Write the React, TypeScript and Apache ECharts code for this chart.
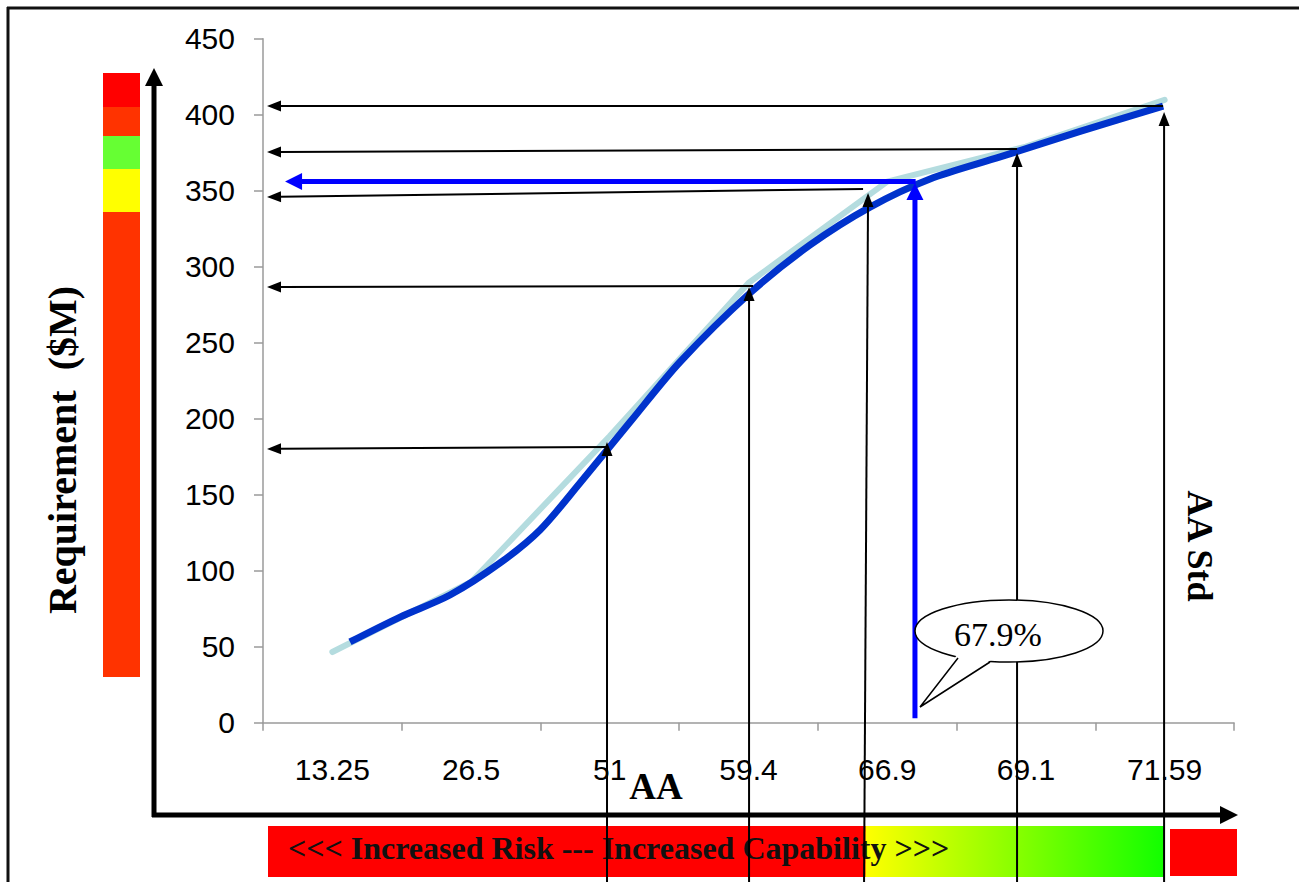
import React, { useEffect, useRef } from "react";
import * as echarts from "echarts";

// Category labels along the AA axis
const categories = ["13.25", "26.5", "51", "59.4", "66.9", "69.1", "71.59"];

// Raw requirement at each category ($M)
const rawRequirement = [46.5, 92.6, 188.6, 289.3, 356, 379, 409.7];

// Fitted requirement curve: [position on the category scale (0..7), $M]
const fittedX = [0.627, 0.988, 1.348, 1.709, 1.997, 2.285, 2.646, 3.006, 3.511, 3.944, 4.376, 4.809, 5.314, 5.89, 6.489];
const fittedY = [53.1, 69.5, 84.0, 105.1, 126.8, 157.7, 197.8, 237.3, 282.7, 314.3, 339.2, 357.7, 372.2, 389.0, 405.7];

// Read-off arrows: horizontal arrows from the curve to the requirement axis
const readFromX = [2.487, 3.533, 4.326, 5.436, 6.489];
const readFromY = [181.4, 287.3, 351.1, 377.4, 405.7];
const readToX = [0.029, 0.029, 0.029, 0.029, 0.029];
const readToY = [180.1, 286.6, 345.9, 375.5, 405.7];

// Standard lines rising from below the axis up to the curve
const riseBottomX = [2.48, 3.504, 4.333, 5.436, 6.496];
const riseTopX = [2.48, 3.504, 4.362, 5.436, 6.496];
const riseTopY = [184.7, 286.6, 348.5, 374.8, 401.8];
const riseBottomY = -105;

// Highlighted read-off at 67.9%
const markX = 4.7;
const markBottomY = 3;
const markTopY = 355;
const markLevel = 356;
const markLeftX = 0.159;
const markLabel = "67.9%";

const yTicks = { min: 0, max: 450, interval: 50 };

const arrowSeries = (
  name: string,
  data: number[][],
  color: string,
  width: number,
  headLen: number,
  headWidth: number
) => ({
  name,
  type: "custom",
  xAxisIndex: 1,
  yAxisIndex: 0,
  clip: false,
  silent: true,
  z: 5,
  data,
  renderItem: (_params: any, api: any) => {
    const p0 = api.coord([api.value(0), api.value(1)]);
    const p1 = api.coord([api.value(2), api.value(3)]);
    const dx = p1[0] - p0[0];
    const dy = p1[1] - p0[1];
    const len = Math.hypot(dx, dy) || 1;
    const ux = dx / len;
    const uy = dy / len;
    const bx = p1[0] - ux * headLen;
    const by = p1[1] - uy * headLen;
    const hw = headWidth / 2;
    return {
      type: "group",
      children: [
        {
          type: "line",
          shape: { x1: p0[0], y1: p0[1], x2: bx + ux * 1, y2: by + uy * 1 },
          style: { stroke: color, lineWidth: width },
        },
        {
          type: "polygon",
          shape: {
            points: [
              [p1[0], p1[1]],
              [bx - uy * hw, by + ux * hw],
              [bx + uy * hw, by - ux * hw],
            ],
          },
          style: { fill: color },
        },
      ],
    };
  },
});

export default function App() {
  const ref = useRef<HTMLDivElement>(null);

  useEffect(() => {
    if (!ref.current) return;
    const chart = echarts.init(ref.current, null, { renderer: "svg" });

    const readArrows = readFromX.map((x, i) => [x, readFromY[i], readToX[i], readToY[i]]);
    const riseArrows = riseBottomX.map((x, i) => [x, riseBottomY, riseTopX[i], riseTopY[i]]);
    const markArrows = [
      [markX, markBottomY, markX, markTopY],
      [markX + 0.005, markLevel, markLeftX, markLevel],
    ];

    const serif = "'Liberation Serif', 'Times New Roman', serif";
    const sans = "'Liberation Sans', Arial, sans-serif";

    chart.setOption({
      animation: false,
      grid: { left: 263, top: 38.7, width: 971, height: 684, containLabel: false },
      xAxis: [
        {
          type: "category",
          data: categories,
          boundaryGap: true,
          axisLine: { show: true, lineStyle: { color: "#9a9a9a", width: 1.5 } },
          axisTick: { show: true, interval: 0, length: 8, lineStyle: { color: "#9a9a9a", width: 1.5 } },
          axisLabel: { interval: 0, margin: 32, color: "#000", fontSize: 30, fontFamily: sans },
          splitLine: { show: false },
        },
        { type: "value", min: 0, max: 7, show: false },
      ],
      yAxis: [
        {
          type: "value",
          min: yTicks.min,
          max: yTicks.max,
          interval: yTicks.interval,
          axisLine: { show: true, lineStyle: { color: "#9a9a9a", width: 1.5 } },
          axisTick: { show: true, length: 9, lineStyle: { color: "#9a9a9a", width: 1.5 } },
          axisLabel: { margin: 28, color: "#000", fontSize: 30, fontFamily: sans },
          splitLine: { show: false },
        },
      ],
      series: [
        {
          name: "Requirement",
          type: "line",
          xAxisIndex: 0,
          data: rawRequirement,
          symbol: "none",
          smooth: false,
          lineStyle: { color: "#b4dcdf", width: 6, cap: "round", join: "round" },
          z: 3,
        },
        {
          name: "Fitted",
          type: "line",
          xAxisIndex: 1,
          data: fittedX.map((x, i) => [x, fittedY[i]]),
          symbol: "none",
          smooth: 0.3,
          lineStyle: { color: "#0033cc", width: 7, cap: "butt", join: "round" },
          z: 4,
        },
        arrowSeries("Read-off", readArrows, "#000", 2, 14, 11),
        arrowSeries("Standards", riseArrows, "#000", 2, 14, 11),
        arrowSeries("67.9% read-off", markArrows, "#0000ff", 5, 17, 17),
      ],
      graphic: [
        // page frame
        { type: "line", shape: { x1: 7, y1: 8, x2: 1299, y2: 8 }, style: { stroke: "#111", lineWidth: 3 } },
        { type: "line", shape: { x1: 8, y1: 7, x2: 8, y2: 882 }, style: { stroke: "#111", lineWidth: 3 } },
        // risk colour scale beside the requirement axis
        { type: "rect", shape: { x: 103, y: 73, width: 37, height: 34 }, style: { fill: "#ff0000" } },
        { type: "rect", shape: { x: 103, y: 107, width: 37, height: 29 }, style: { fill: "#ff3300" } },
        { type: "rect", shape: { x: 103, y: 136, width: 37, height: 33 }, style: { fill: "#66ff33" } },
        { type: "rect", shape: { x: 103, y: 169, width: 37, height: 43 }, style: { fill: "#ffff00" } },
        { type: "rect", shape: { x: 103, y: 212, width: 37, height: 465 }, style: { fill: "#ff3300" } },
        // heavy outer axes
        { type: "line", shape: { x1: 154, y1: 817, x2: 154, y2: 84 }, style: { stroke: "#000", lineWidth: 5 } },
        { type: "polygon", shape: { points: [[154, 68], [145, 86], [163, 86]] }, style: { fill: "#000" } },
        { type: "line", shape: { x1: 152, y1: 815, x2: 1222, y2: 815 }, style: { stroke: "#000", lineWidth: 5 } },
        { type: "polygon", shape: { points: [[1238, 815], [1220, 806], [1220, 824]] }, style: { fill: "#000" } },
        // risk / capability band
        {
          type: "rect",
          shape: { x: 268, y: 826, width: 897, height: 51 },
          style: {
            fill: new echarts.graphic.LinearGradient(0, 0, 1, 0, [
              { offset: 0, color: "#ff0000" },
              { offset: 0.6655, color: "#ff0000" },
              { offset: 0.6665, color: "#ffff00" },
              { offset: 1, color: "#11ff00" },
            ]),
          },
        },
        { type: "rect", shape: { x: 1170, y: 829, width: 67, height: 47 }, style: { fill: "#ff0000" } },
        {
          type: "text",
          x: 288,
          y: 848,
          style: {
            text: "<<< Increased Risk --- Increased Capability >>>",
            fill: "#111",
            font: `bold 32px ${serif}`,
            align: "left",
            verticalAlign: "middle",
          },
        },
        // axis titles
        {
          type: "text",
          x: 62,
          y: 450,
          rotation: Math.PI / 2,
          style: {
            text: "Requirement  ($M)",
            fill: "#000",
            font: `bold 40px ${serif}`,
            align: "center",
            verticalAlign: "middle",
          },
        },
        {
          type: "text",
          x: 656,
          y: 786,
          style: { text: "AA", fill: "#000", font: `bold 37px ${serif}`, align: "center", verticalAlign: "middle" },
        },
        {
          type: "text",
          x: 1200,
          y: 546,
          rotation: -Math.PI / 2,
          style: { text: "AA Std", fill: "#000", font: `bold 36px ${serif}`, align: "center", verticalAlign: "middle" },
        },
        // callout for the highlighted read-off
        {
          type: "group",
          z: 100,
          children: [
            {
              type: "ellipse",
              z: 100,
              shape: { cx: 1009, cy: 631, rx: 94, ry: 31 },
              style: { fill: "#fff", stroke: "#000", lineWidth: 1.5 },
            },
            {
              type: "polygon",
              z: 101,
              shape: { points: [[957, 655], [921, 706], [991, 660], [975, 650]] },
              style: { fill: "#fff" },
            },
            {
              type: "polyline",
              z: 102,
              shape: { points: [[958, 658], [920, 707], [990, 662]] },
              style: { stroke: "#000", lineWidth: 1.5, fill: null },
            },
            {
              type: "text",
              z: 103,
              x: 998,
              y: 634,
              style: { text: markLabel, fill: "#000", font: `34px ${serif}`, align: "center", verticalAlign: "middle" },
            },
          ],
        },
      ],
    });

    return () => chart.dispose();
  }, []);

  return (
    <div
      ref={ref}
      style={{ position: "absolute", left: 0, top: 0, width: 1299, height: 882, background: "#fff" }}
    />
  );
}
